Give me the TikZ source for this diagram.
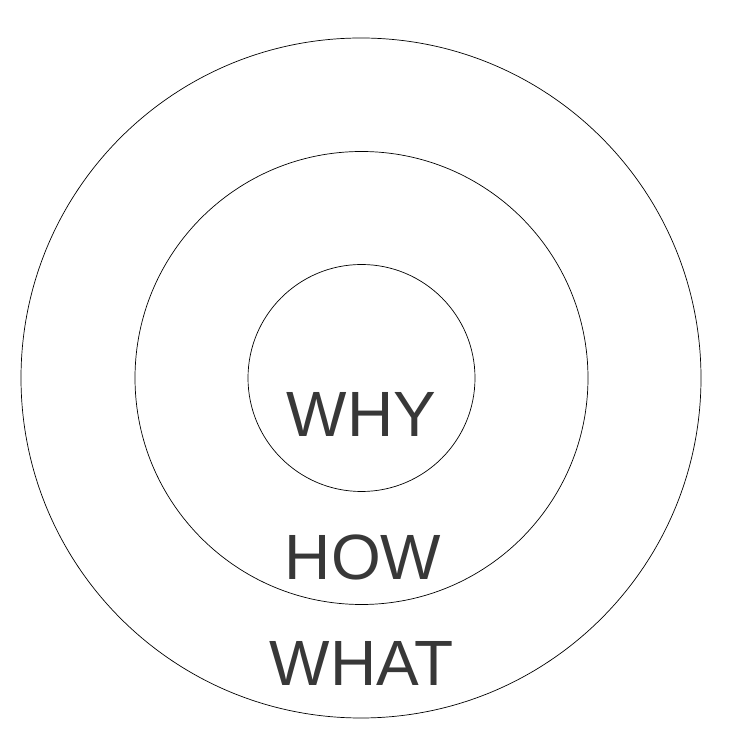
\documentclass[tikz,border=0pt]{standalone}
\usepackage{fontspec}
\setmainfont{Liberation Sans}
\definecolor{txt}{HTML}{383838}
\begin{document}
\begin{tikzpicture}[x=1pt,y=1pt,
  ring/.style={draw=black,line width=0.7pt,circle,inner sep=0pt},
  lbl/.style={text=txt,font=\fontsize{64}{64}\selectfont,anchor=base,inner sep=0pt}]
\useasboundingbox (0,0) rectangle (731,731);
\node[ring,minimum size=680pt] (outer) at (361,353) {};
\node[ring,minimum size=453pt] (middle) at (361.5,353) {};
\node[ring,minimum size=227pt] (inner) at (361.5,353) {};
\node[lbl] (why) at (361.5,294) {WHY};
\node[lbl] (how) at (363,151) {HOW};
\node[lbl] (what) at (361.5,45) {WHAT};
\end{tikzpicture}
\end{document}
